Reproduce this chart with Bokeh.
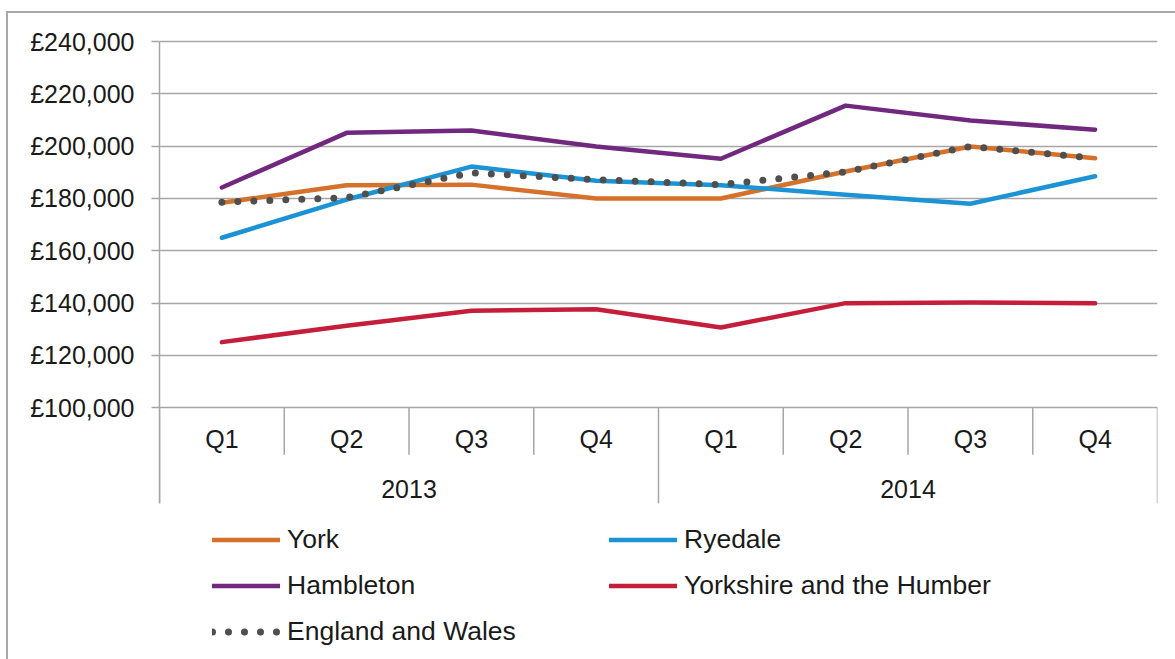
from bokeh.plotting import figure
from bokeh.models import (FactorRange, Range1d, ColumnDataSource, Legend, LegendItem,
                          FixedTicker)
from bokeh.core.properties import value
from bokeh.embed import file_html
from bokeh.resources import INLINE

# ---------------- data ----------------
years = ["2013", "2014"]
quarters = ["Q1", "Q2", "Q3", "Q4"]

york = [178400, 185100, 185300, 180000, 180000, 190300, 199900, 195400]
ryedale = [165000, 179600, 192200, 186800, 185100, 181400, 178000, 188500]
hambleton = [184200, 205100, 206000, 199900, 195200, 215500, 209800, 206300]
yorks_humber = [125100, 131400, 137100, 137700, 130700, 140000, 140200, 140000]
england_wales = [178600, 180300, 189800, 187200, 185300, 190200, 199900, 195400]

series_names = ["York", "Ryedale", "Hambleton", "Yorkshire and the Humber", "England and Wales"]

y_ticks = [100000, 120000, 140000, 160000, 180000, 200000, 220000, 240000]
y_tick_labels = ["£100,000", "£120,000", "£140,000", "£160,000",
                 "£180,000", "£200,000", "£220,000", "£240,000"]

# ---------------- styles ----------------
FONT = "Liberation Sans"
TEXT_COLOR = "#1a1a1a"
GRID_COLOR = "#a6a6a6"
colors = ["#d5712b", "#1b93d4", "#70297f", "#c41e3a", "#4f4f4f"]

factors = [(y, q) for y in years for q in quarters]

Y_START, Y_END = 3800, 241150
FRAME_H = 621
px_per_unit = FRAME_H / (Y_END - Y_START)
base = y_ticks[0]
axis_bottom = base - 95.5 / px_per_unit

p = figure(x_range=FactorRange(*factors, factor_padding=0, group_padding=0,
                               subgroup_padding=0, range_padding=0),
           y_range=Range1d(Y_START, Y_END),
           frame_width=998, frame_height=FRAME_H,
           min_border_left=151, min_border_right=18,
           min_border_top=25, min_border_bottom=0,
           output_backend="svg", toolbar_location=None,
           background_fill_color="white", border_fill_color="white")
p.styles = {"border-top": "2px solid #a9a9a9", "border-left": "2px solid #a9a9a9",
            "margin-top": "11px", "margin-left": "6px"}

p.outline_line_color = None
p.xaxis.visible = False
p.xgrid.visible = False

ticker = FixedTicker(ticks=y_ticks)
p.yaxis.ticker = ticker
p.yaxis.bounds = (axis_bottom, y_ticks[-1])
p.yaxis.major_label_overrides = {t: l for t, l in zip(y_ticks, y_tick_labels)}
p.yaxis.major_label_text_font = FONT
p.yaxis.major_label_text_font_size = "25px"
p.yaxis.major_label_text_color = TEXT_COLOR
p.yaxis.major_label_standoff = 17
p.yaxis.axis_line_color = GRID_COLOR
p.yaxis.axis_line_width = 1.5
p.yaxis.major_tick_line_color = GRID_COLOR
p.yaxis.major_tick_line_width = 1.5
p.yaxis.major_tick_out = 8
p.yaxis.major_tick_in = 0
p.yaxis.minor_tick_line_color = None

p.ygrid.ticker = ticker
p.ygrid.grid_line_color = GRID_COLOR
p.ygrid.grid_line_width = 1.5

# ---------------- category axis (drawn) ----------------
q_sep_len = 47 / px_per_unit
q_x = [(y, q, -0.5) for y in years for q in quarters[1:]]
yr_x = [(years[0], quarters[0], -0.5), (years[1], quarters[0], -0.5), (years[-1], quarters[-1], 0.5)]
p.segment(x0=q_x, x1=q_x, y0=[base] * len(q_x), y1=[base - q_sep_len] * len(q_x),
          line_color=GRID_COLOR, line_width=1.5)
p.segment(x0=yr_x, x1=yr_x, y0=[base] * len(yr_x), y1=[axis_bottom] * len(yr_x),
          line_color=GRID_COLOR, line_width=1.5)

p.text(x=factors, y=[base] * len(factors), text=[q for _, q in factors],
       y_offset=31, text_align="center", text_baseline="middle",
       text_font=value(FONT), text_font_size="25px", text_color=TEXT_COLOR)
p.text(x=years, y=[base] * len(years), text=years,
       y_offset=81, text_align="center", text_baseline="middle",
       text_font=value(FONT), text_font_size="25px", text_color=TEXT_COLOR)

# ---------------- series ----------------
all_series = [york, ryedale, hambleton, yorks_humber, england_wales]
renderers = []
for name, vals, col in zip(series_names, all_series, colors):
    src = ColumnDataSource(dict(x=factors, y=vals))
    if name == "England and Wales":
        r = p.line("x", "y", source=src, line_color=col, line_width=7,
                   line_dash="0 16", line_cap="round")
    else:
        r = p.line("x", "y", source=src, line_color=col, line_width=4.5,
                   line_cap="round", line_join="round")
    renderers.append(r)

items = [LegendItem(label=n, renderers=[r]) for n, r in zip(series_names, renderers)]
legend = Legend(items=items, location=(53, 12), orientation="horizontal", ncols=2,
                label_text_font=FONT, label_text_font_size="26.5px",
                label_text_color=TEXT_COLOR, glyph_width=68, glyph_height=31,
                label_height=31, label_width=307, label_standoff=7, spacing=15,
                padding=0, margin=0, border_line_color=None,
                background_fill_alpha=0)
p.add_layout(legend, "center")

open("out.html", "w").write(file_html(p, INLINE))
